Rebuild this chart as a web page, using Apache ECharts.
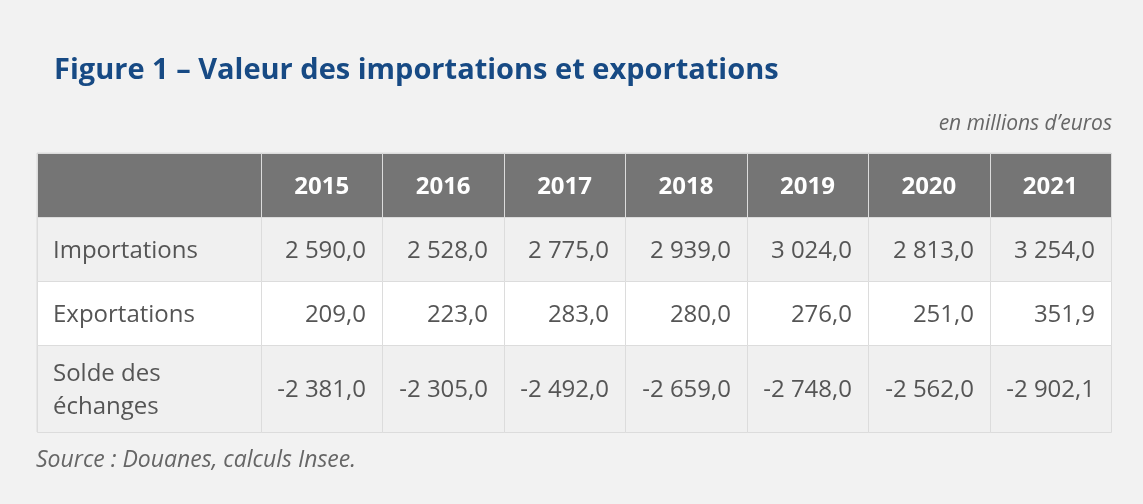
<!DOCTYPE html>
<html>
<head>
<meta charset="utf-8">
<script src="https://cdn.jsdelivr.net/npm/echarts@6/dist/echarts.min.js"></script>
<style>
  html, body { margin: 0; padding: 0; background: #f2f2f2; }
  #main { width: 1143px; height: 504px; }
</style>
</head>
<body>
<div id="main"></div>
<script>
// data (en millions d'euros)
var years = ['2015', '2016', '2017', '2018', '2019', '2020', '2021'];
var rowLabels = ['Importations', 'Exportations', 'Solde des\néchanges'];
var importations = [2590.0, 2528.0, 2775.0, 2939.0, 3024.0, 2813.0, 3254.0];
var exportations = [209.0, 223.0, 283.0, 280.0, 276.0, 251.0, 351.9];
var solde = [-2381.0, -2305.0, -2492.0, -2659.0, -2748.0, -2562.0, -2902.1];

// layout: header + 3 body rows, last one is taller (two line label)
var rowHeights = [64, 64, 64, 87];
var rowEdges = [0];
rowHeights.forEach(function (h, i) { rowEdges.push(rowEdges[i] + h); });
var tableH = rowEdges[rowEdges.length - 1];

var FONT = '"Open Sans", "DejaVu Sans", sans-serif';
var headFill = '#757575';
var stripeFill = '#f0f0f0';
var lineColor = '#dcdcdc';
var textColor = '#555555';

function fmt(v) {
  var s = Math.abs(v).toFixed(1).split('.');
  var ent = s[0].replace(/\B(?=(\d{3})+(?!\d))/g, ' ');
  return (v < 0 ? '-' : '') + ent + ',' + s[1];
}

// cells of the year columns
var cells = [];
years.forEach(function (y, i) {
  cells.push({ col: i, row: 0, text: y, kind: 'head' });
});
[importations, exportations, solde].forEach(function (arr, r) {
  arr.forEach(function (v, i) {
    cells.push({ col: i, row: r + 1, text: fmt(v), kind: 'body' });
  });
});
// cells of the label column
var labelCells = [{ col: 0, row: 0, text: '', kind: 'head' }];
rowLabels.forEach(function (l, r) {
  labelCells.push({ col: 0, row: r + 1, text: l, kind: 'label' });
});

function makeRender(list) {
  return function (params, api) {
    var c = list[params.dataIndex];
    var cx = api.coord([c.col, 0])[0];
    var bw = api.size([1, 0])[0];
    var y0 = Math.round(api.coord([0, rowEdges[c.row]])[1]);
    var y1 = Math.round(api.coord([0, rowEdges[c.row + 1]])[1]);
    var x0 = Math.round(cx - bw / 2);
    var x1 = Math.round(cx + bw / 2);
    var fill = c.row === 0 ? headFill : (c.row % 2 === 1 ? stripeFill : '#ffffff');
    var children = [{
      type: 'rect',
      shape: { x: x0 + 0.5, y: y0 + 0.5, width: x1 - x0, height: y1 - y0 },
      style: { fill: fill, stroke: lineColor, lineWidth: 1 }
    }];
    var ym = (y0 + y1) / 2 + 2;
    var txt = {
      type: 'text',
      style: {
        text: c.text,
        y: ym,
        verticalAlign: 'middle',
        fontFamily: FONT,
        fontSize: 24,
        fill: textColor
      }
    };
    if (c.kind === 'head') {
      txt.style.x = cx;
      txt.style.align = 'center';
      txt.style.fill = '#ffffff';
      txt.style.fontWeight = 'bold';
    } else if (c.kind === 'label') {
      txt.style.x = x0 + 16;
      txt.style.align = 'left';
      txt.style.lineHeight = 33;
    } else {
      txt.style.x = x1 - 16;
      txt.style.align = 'right';
    }
    children.push(txt);
    return { type: 'group', children: children };
  };
}

var chart = echarts.init(document.getElementById('main'));
var option = {
  backgroundColor: '#f2f2f2',
  animation: false,
  title: [
    {
      text: 'Figure 1 – Valeur des importations et exportations',
      left: 54,
      top: 56,
      padding: 0,
      textStyle: { fontFamily: FONT, fontSize: 29, fontWeight: 'bold', color: '#174a84' }
    },
    {
      text: 'en millions d’euros',
      right: 31,
      top: 114,
      padding: 0,
      textStyle: { fontFamily: FONT, fontSize: 21, fontWeight: 'normal', fontStyle: 'italic', color: '#666666' }
    },
    {
      text: 'Source : Douanes, calculs Insee.',
      left: 36,
      top: 449,
      padding: 0,
      textStyle: { fontFamily: FONT, fontSize: 23, fontWeight: 'normal', fontStyle: 'italic', color: '#666666' }
    }
  ],
  grid: [
    { left: 37, top: 153, width: 224, height: tableH, show: true, borderColor: lineColor, borderWidth: 1, backgroundColor: 'transparent' },
    { left: 261, top: 153, width: 850, height: tableH, show: true, borderColor: lineColor, borderWidth: 1, backgroundColor: 'transparent' }
  ],
  xAxis: [
    { gridIndex: 0, type: 'category', data: [''], show: false },
    { gridIndex: 1, type: 'category', data: years, show: false }
  ],
  yAxis: [
    { gridIndex: 0, type: 'value', min: 0, max: tableH, inverse: true, show: false },
    { gridIndex: 1, type: 'value', min: 0, max: tableH, inverse: true, show: false }
  ],
  series: [
    {
      type: 'custom',
      xAxisIndex: 0,
      yAxisIndex: 0,
      renderItem: makeRender(labelCells),
      data: labelCells.map(function (c) { return [c.col, rowEdges[c.row]]; }),
      clip: false
    },
    {
      type: 'custom',
      xAxisIndex: 1,
      yAxisIndex: 1,
      renderItem: makeRender(cells),
      data: cells.map(function (c) { return [c.col, rowEdges[c.row]]; }),
      clip: false
    }
  ]
};
chart.setOption(option);
</script>
</body>
</html>
